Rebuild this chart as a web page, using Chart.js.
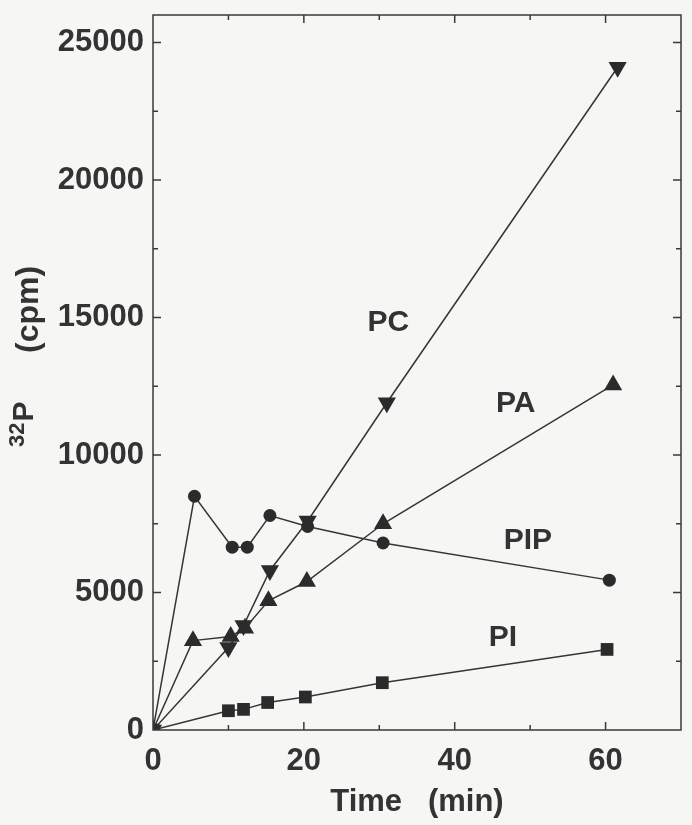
<!DOCTYPE html>
<html>
<head>
<meta charset="utf-8">
<script src="https://cdn.jsdelivr.net/npm/chart.js@4.4.0/dist/chart.umd.min.js"></script>
<style>
  html, body { margin: 0; padding: 0; background: #f6f6f4; }
  #wrap { width: 692px; height: 825px; }
</style>
</head>
<body>
<div id="wrap"><canvas id="grafico" width="692" height="825"></canvas></div>
<script>
// tiempos (min) y cuentas (cpm)
const piTime = [0, 10, 12, 15.2, 20.2, 30.4, 60.2];
const piCpm = [0, 700, 750, 1000, 1200, 1720, 2930];

const pipTime = [0, 5.5, 10.5, 12.5, 15.5, 20.5, 30.5, 60.5];
const pipCpm = [0, 8500, 6650, 6650, 7800, 7400, 6800, 5450];

const paTime = [0, 5.3, 10.3, 12.2, 15.3, 20.4, 30.5, 61];
const paCpm = [0, 3250, 3400, 3700, 4700, 5400, 7500, 12550];

const pcTime = [0, 10, 12, 15.5, 20.5, 31, 61.6];
const pcCpm = [0, 3000, 3800, 5800, 7600, 11900, 24100];

// etiquetas de cada curva (en unidades de los ejes)
const labelNames = ['PC', 'PA', 'PIP', 'PI'];
const labelTime = [31.2, 48.1, 49.7, 46.4];
const labelCpm = [14800, 11850, 6900, 3350];

const xTicks = [0, 20, 40, 60];
const yTicks = [0, 5000, 10000, 15000, 20000, 25000];
const xMarks = [10, 20, 30, 40, 50, 60];
const yMarks = [2500, 5000, 7500, 10000, 12500, 15000, 17500, 20000, 22500, 25000];

const ink = '#333333';
const fam = '"Liberation Sans", Arial, Helvetica, sans-serif';

function serie(nombre, xs, ys, estilo, radio, giro) {
    return {
        label: nombre,
        data: xs.map((x, i) => ({ x: x, y: ys[i] })),
        borderColor: '#353535',
        backgroundColor: '#2b2b2b',
        borderWidth: 1.5,
        pointStyle: estilo,
        pointRadius: radio,
        pointRotation: giro,
        pointBorderWidth: 0,
        pointBackgroundColor: '#2b2b2b',
        tension: 0
    };
}

const marco = {
    id: 'marco',
    afterDraw(chart) {
        const ctx = chart.ctx;
        const a = chart.chartArea;
        const xs = chart.scales.x;
        const ys = chart.scales.y;
        ctx.save();
        ctx.strokeStyle = '#3a3a3a';
        ctx.lineWidth = 1.5;
        ctx.strokeRect(a.left, a.top, a.right - a.left, a.bottom - a.top);

        ctx.beginPath();
        xMarks.forEach(v => {
            const px = xs.getPixelForValue(v);
            const len = v % 20 === 0 ? 8 : 5;
            ctx.moveTo(px, a.bottom); ctx.lineTo(px, a.bottom - len);
            ctx.moveTo(px, a.top); ctx.lineTo(px, a.top + len);
        });
        yMarks.forEach(v => {
            const py = ys.getPixelForValue(v);
            const len = v % 5000 === 0 ? 8 : 5;
            ctx.moveTo(a.left, py); ctx.lineTo(a.left + len, py);
            ctx.moveTo(a.right, py); ctx.lineTo(a.right - len, py);
        });
        ctx.stroke();

        // nombres de las curvas
        ctx.fillStyle = ink;
        ctx.font = 'bold 30px ' + fam;
        ctx.textAlign = 'center';
        ctx.textBaseline = 'middle';
        labelNames.forEach((n, i) => {
            ctx.fillText(n, xs.getPixelForValue(labelTime[i]), ys.getPixelForValue(labelCpm[i]));
        });

        // titulo del eje y: 32P (cpm)
        ctx.translate(33, 447);
        ctx.rotate(-Math.PI / 2);
        ctx.textAlign = 'left';
        ctx.textBaseline = 'alphabetic';
        ctx.font = 'bold 22px ' + fam;
        ctx.fillText('32', 0, -9);
        const w32 = ctx.measureText('32').width;
        ctx.font = 'bold 30px ' + fam;
        ctx.fillText('P', w32 + 1, 0);
        ctx.font = 'bold 32px ' + fam;
        ctx.fillText('(cpm)', 94, 5);
        ctx.restore();
    }
};

new Chart(document.getElementById('grafico'), {
    type: 'line',
    data: {
        datasets: [
            serie('PI', piTime, piCpm, 'rect', 9, 0),
            serie('PIP', pipTime, pipCpm, 'circle', 6.5, 0),
            serie('PA', paTime, paCpm, 'triangle', 10.5, 0),
            serie('PC', pcTime, pcCpm, 'triangle', 10.5, 180)
        ]
    },
    options: {
        responsive: false,
        animation: false,
        layout: { padding: { top: 15, right: 11, left: 0, bottom: 0 } },
        plugins: { legend: { display: false }, tooltip: { enabled: false } },
        scales: {
            x: {
                type: 'linear',
                min: 0,
                max: 70,
                afterBuildTicks: s => { s.ticks = xTicks.map(v => ({ value: v })); },
                afterFit: s => { s.height = 95; s.paddingLeft = 0; s.paddingRight = 0; },
                grid: { display: false, drawTicks: false },
                border: { display: false },
                ticks: {
                    color: ink, padding: 13,
                    callback: v => String(v),
                    font: { family: fam, size: 31, weight: 'bold', lineHeight: 1.2 }
                },
                title: {
                    display: true,
                    text: 'Time   (min)',
                    color: ink,
                    font: { family: fam, size: 31, weight: 'bold', lineHeight: 1.2 },
                    padding: { top: 0, bottom: 4 }
                }
            },
            y: {
                min: 0,
                max: 26000,
                afterBuildTicks: s => { s.ticks = yTicks.map(v => ({ value: v })); },
                afterFit: s => { s.width = 153; s.paddingTop = 0; s.paddingBottom = 0; },
                grid: { display: false, drawTicks: false },
                border: { display: false },
                ticks: {
                    color: ink, padding: 9,
                    callback: v => String(v),
                    font: { family: fam, size: 31, weight: 'bold', lineHeight: 1 }
                }
            }
        }
    },
    plugins: [marco]
});
</script>
</body>
</html>
